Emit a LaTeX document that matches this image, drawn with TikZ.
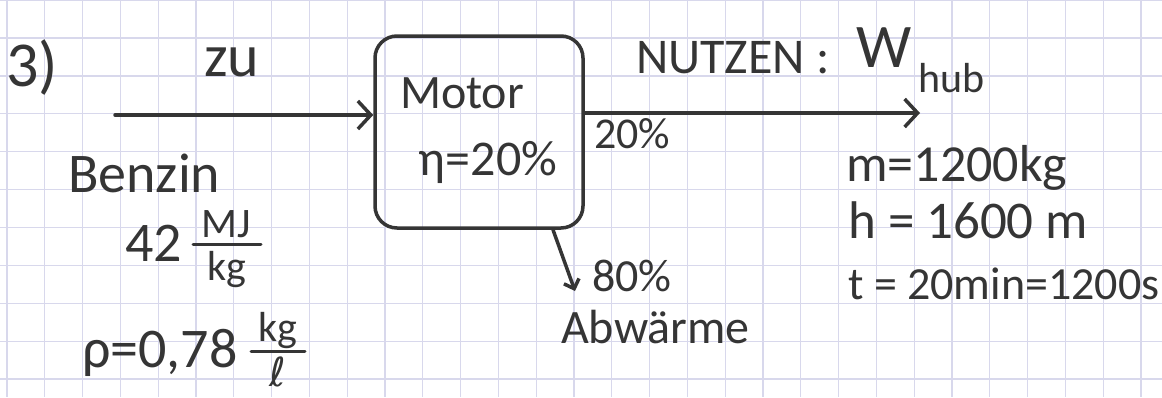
\documentclass[tikz,border=0pt]{standalone}
\usepackage{fontspec}
\setmainfont{Carlito}
\newfontfamily\dejavu{DejaVu Sans}
\usetikzlibrary{arrows.meta}
\definecolor{ink}{HTML}{353535}
\definecolor{gridc}{HTML}{D8D8EC}
\newcommand\fsz[1]{\fontsize{#1}{#1}\selectfont}
\begin{document}
\begin{tikzpicture}[x=1pt,y=-1pt,
  txt/.style={inner sep=0pt, text=ink},
  gridline/.style={draw=gridc, line width=1.3pt},
  stroke/.style={draw=ink, line width=3.5pt, line cap=round},
  flow/.style={stroke, -{Straight Barb[length=13pt,width=28pt]}},
  smallflow/.style={stroke, -{Straight Barb[length=8pt,width=16pt]}},
  fracbar/.style={draw=ink, line width=3pt, line cap=round}
]
\fill[white] (0,0) rectangle (1162,397);
\useasboundingbox (0,0) rectangle (1162,397);
% paper grid
\foreach \i in {0,...,30} \draw[gridline] ({7+37.8*\i},0) -- ({7+37.8*\i},397);
\foreach \j in {0,...,10} \draw[gridline] (0,{0.1+37.9*\j}) -- (1162,{0.1+37.9*\j});

% title
\node[txt, anchor=base west, font=\fsz{64}] (num) at (6,86) {3)};

% motor box
\node[draw=ink, line width=3.5pt, rounded corners=22pt, minimum width=208pt, minimum height=192pt] (motor) at (479,132) {};
\node[txt, font=\fsz{48}] (motorlbl) at (462,93) {Motor};
\node[txt, anchor=base, font=\fsz{50}] (eta) at (488,175) {η=20\%};

% input
\node[txt, font=\fsz{60}] (zu) at (232,62) {zu};
\coordinate (instart) at (115,115);
\draw[flow] (instart) -- (instart -| motor.west);
\node[txt, anchor=base west, font=\fsz{56}] (benzin) at (68,192) {Benzin};
\node[txt, anchor=base west, font=\fsz{56}] (fortytwo) at (125,261) {42};
\node[txt, anchor=base, font=\fsz{42}] (mj) at (226,237) {MJ};
\node[txt, anchor=base, font=\fsz{42}] (kga) at (227,280) {kg};
\draw[fracbar] (193,244) -- (261,244);
\node[txt, anchor=base west, font=\fsz{56}] (rho) at (82,367) {ρ=0,78};
\node[txt, anchor=base, font=\fsz{42}] (kgb) at (278,341) {kg};
\node[txt, anchor=base, font=\fsz{40}\dejavu] (liter) at (278,386) {ℓ};
\draw[fracbar] (251,351) -- (305,351);

% output
\coordinate (outend) at (920,113);
\draw[flow] (outend -| motor.east) -- (outend);
\node[txt, anchor=base west, font=\fsz{44}] (pct20) at (594,148) {20\%};
\node[txt, anchor=base west, font=\fsz{50}] (nutzen) at (636,73) {NUTZEN :};
\node[txt, anchor=base west, font=\fsz{62}] (w) at (856,67) {W};
\node[txt, anchor=base west, font=\fsz{42}] (hub) at (918,92) {hub};

\node[txt, anchor=base west, font=\fsz{52}] (mass) at (846,181) {m=1200kg};
\node[txt, anchor=base west, font=\fsz{53}] (height) at (848,238) {h = 1600 m};
\node[txt, anchor=base west, font=\fsz{46}] (time) at (848,299) {t = 20min=1200s};

% waste heat
\coordinate (wasteend) at (575,291);
\draw[smallflow] ([xshift=74pt]motor.south) -- (wasteend);
\node[txt, anchor=base west, font=\fsz{46}] (pct80) at (592,291) {80\%};
\node[txt, anchor=base west, font=\fsz{48}] (abw) at (561,343) {Abwärme};
\end{tikzpicture}
\end{document}
